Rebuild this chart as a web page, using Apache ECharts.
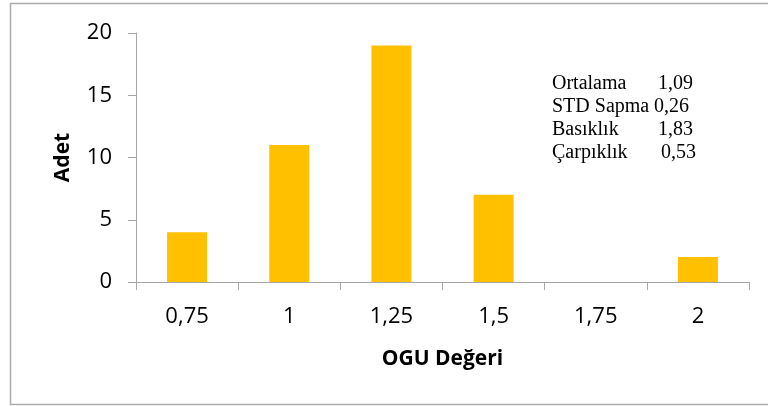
<!DOCTYPE html>
<html>
<head>
<meta charset="utf-8">
<script src="https://cdn.jsdelivr.net/npm/echarts@6/dist/echarts.min.js"></script>
<style>
  html, body { margin: 0; padding: 0; background: #fff; }
  #chart { width: 768px; height: 406px; }
</style>
</head>
<body>
<div id="chart"></div>
<script>
// OGU değerlerinin frekans dağılımı
const categories = ['0,75', '1', '1,25', '1,5', '1,75', '2'];
const counts = [4, 11, 19, 7, 0, 2];
const yTicks = { min: 0, max: 20, interval: 5 };

// İstatistik kutusu
const statNames = ['Ortalama', 'STD Sapma', 'Basıklık', 'Çarpıklık'];
const statValues = ['1,09', '0,26', '1,83', '0,53'];

const sans = '"Open Sans", "Liberation Sans", sans-serif';
const serif = '"Liberation Serif", "DejaVu Serif", serif';
const axisGray = '#a6a6a6';

const chart = echarts.init(document.getElementById('chart'), null, { renderer: 'canvas' });

const statGraphics = [];
statNames.forEach((name, i) => {
  const y = 86 + i * 23;
  statGraphics.push({
    type: 'text', left: 552, top: y - 12,
    style: { text: name, font: '20px ' + serif, fill: '#000' }
  });
  statGraphics.push({
    type: 'text', left: [658, 654, 658, 661][i], top: y - 12,
    style: { text: statValues[i], font: '20px ' + serif, fill: '#000' }
  });
});

chart.setOption({
  animation: false,
  backgroundColor: '#fff',
  grid: { left: 136, right: 19, top: 33, bottom: 124, containLabel: false },
  xAxis: {
    type: 'category',
    data: categories,
    name: 'OGU Değeri',
    nameLocation: 'middle',
    nameGap: 67,
    nameTextStyle: { fontFamily: sans, fontSize: 21, fontWeight: 'bold', color: '#000' },
    axisLine: { lineStyle: { color: axisGray, width: 1 } },
    axisTick: { show: true, alignWithLabel: false, length: 8, lineStyle: { color: axisGray } },
    axisLabel: { fontFamily: sans, fontSize: 22, color: '#000', margin: 24 },
    splitLine: { show: false }
  },
  yAxis: {
    type: 'value',
    min: yTicks.min,
    max: yTicks.max,
    interval: yTicks.interval,
    name: 'Adet',
    nameLocation: 'middle',
    nameGap: 62,
    nameRotate: 90,
    nameTextStyle: { fontFamily: sans, fontSize: 21, fontWeight: 'bold', color: '#000' },
    axisLine: { show: true, lineStyle: { color: axisGray, width: 1 } },
    axisTick: { show: true, length: 8, lineStyle: { color: axisGray } },
    axisLabel: { fontFamily: sans, fontSize: 22, color: '#000', margin: 24 },
    splitLine: { show: false }
  },
  series: [{
    type: 'bar',
    data: counts,
    barWidth: 40,
    itemStyle: { color: '#FFC000' }
  }],
  graphic: [
    {
      type: 'rect',
      shape: { x: 10.5, y: 3.5, width: 800, height: 401 },
      style: { fill: 'none', stroke: '#ababab', lineWidth: 1.5 },
      silent: true
    }
  ].concat(statGraphics)
});
</script>
</body>
</html>
